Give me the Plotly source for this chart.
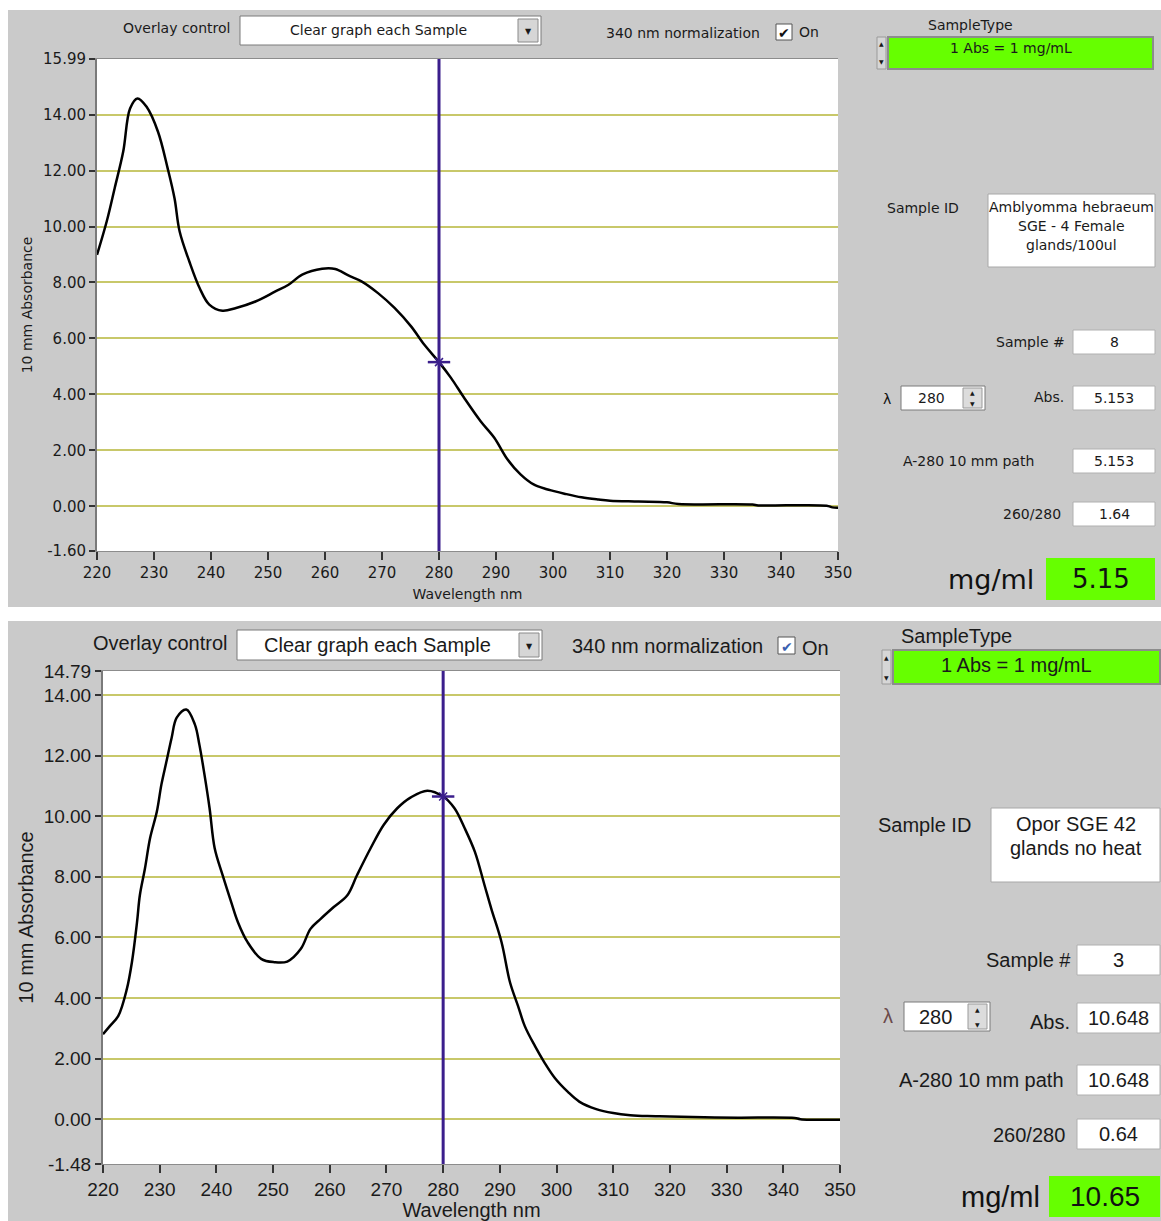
import plotly.graph_objects as go

W, H = 1161, 1221

# ---------------- data ----------------
wl_top = [220, 221.7, 223.1, 224.6, 225.8, 227.1, 228.7, 230.7, 232.4, 233.6, 234.5, 236.2,
          238.0, 239.7, 242.0, 244.4, 247.8, 251.3, 253.6, 256.0, 259.5, 261.8, 264.1, 266.4,
          269.3, 272.2, 275.1, 277.4, 280, 282.1, 284.4, 287.3, 289.7, 292.0, 294.3, 296.6,
          298.9, 300, 302, 305, 308, 310, 315, 320, 322, 335, 336, 348, 349, 350]
abs_top = [8.99, 10.18, 11.37, 12.68, 14.22, 14.58, 14.28, 13.39, 12.08, 11.01, 9.82, 8.75,
           7.80, 7.21, 6.99, 7.09, 7.32, 7.68, 7.92, 8.28, 8.49, 8.48, 8.25, 8.04,
           7.62, 7.09, 6.43, 5.78, 5.153, 4.59, 3.88, 3.04, 2.45, 1.68, 1.14, 0.78,
           0.61, 0.55, 0.45, 0.32, 0.24, 0.20, 0.17, 0.14, 0.08, 0.06, 0.03, 0.02, -0.04, -0.05]

wl_bot = [220, 221.2, 222.7, 224.2, 225.1, 226.0, 226.5, 227.4, 228.3, 229.5, 230.3, 231.2,
          232.1, 233.0, 234.7, 236.2, 237.0, 237.9, 238.8, 239.7, 241.1, 242.6, 243.8, 245.5,
          247.9, 250.2, 252.5, 254.9, 256.6, 258.4, 260.7, 263.1, 264.8, 267.2, 269.5, 271.9,
          274.3, 277.2, 280, 282.0, 283.8, 285.6, 287.3, 288.5, 290.3, 291.8, 293.2, 294.4,
          296.2, 297.9, 299.7, 302, 304, 307, 310, 313, 316, 320, 326, 332, 342, 343, 350]
abs_bot = [2.80, 3.07, 3.41, 4.29, 5.18, 6.50, 7.39, 8.27, 9.27, 10.15, 11.04, 11.81,
           12.58, 13.25, 13.52, 13.03, 12.36, 11.37, 10.26, 8.94, 8.05, 7.17, 6.50, 5.84,
           5.29, 5.18, 5.20, 5.62, 6.28, 6.61, 7.00, 7.39, 8.05, 8.94, 9.71, 10.26,
           10.62, 10.84, 10.648, 10.26, 9.60, 8.82, 7.72, 6.94, 5.84, 4.51, 3.74, 3.07,
           2.41, 1.86, 1.36, 0.90, 0.58, 0.33, 0.20, 0.13, 0.10, 0.09, 0.06, 0.05, 0.04, 0.0, -0.02]

cursor_nm = 280
cursor_abs_top = 5.153
cursor_abs_bot = 10.648

x_range = [220, 350]
x_ticks = [220, 230, 240, 250, 260, 270, 280, 290, 300, 310, 320, 330, 340, 350]
y_range_top = [-1.60, 15.99]
y_ticks_top = [-1.60, 0, 2, 4, 6, 8, 10, 12, 14, 15.99]
y_range_bot = [-1.48, 14.79]
y_ticks_bot = [-1.48, 0, 2, 4, 6, 8, 10, 12, 14, 14.79]

panel_top = dict(sample_id=["Amblyomma hebraeum", "SGE - 4 Female", "glands/100ul"],
                 sample_no="8", lam="280", absv="5.153", a280="5.153", ratio="1.64", mgml="5.15")
panel_bot = dict(sample_id=["Opor SGE 42", "glands no heat"],
                 sample_no="3", lam="280", absv="10.648", a280="10.648", ratio="0.64", mgml="10.65")

# ---------------- styling ----------------
GRAY = "#cacaca"
GREEN = "#66ff00"
CURSOR = "#3b1e8c"
GRID = "#c8c86a"
FT = "DejaVu Sans"
FB = "Liberation Sans"

dom_top = dict(x=[97, 838], y=[59, 551])
dom_bot = dict(x=[103, 840], y=[671, 1164])


def px(x):
    return x / W


def py(y):
    return 1 - y / H


shapes = []
annots = []


def rect(x0, y0, x1, y1, fill, line=None, lw=1, layer="below"):
    shapes.append(dict(type="rect", xref="paper", yref="paper",
                       x0=px(x0), x1=px(x1), y0=py(y1), y1=py(y0),
                       fillcolor=fill,
                       line=dict(color=line or fill, width=lw if line else 0),
                       layer=layer))


def text(x, y, s, size, font, xanchor="center", color="#1a1a1a"):
    annots.append(dict(xref="paper", yref="paper", x=px(x), y=py(y), text=s,
                       showarrow=False, xanchor=xanchor, yanchor="middle",
                       font=dict(family=font, size=size, color=color)))


# panels
rect(8, 10, 1161, 607, GRAY)
rect(8, 621, 1161, 1221, GRAY)
# plot areas (white)
for d in (dom_top, dom_bot):
    rect(d["x"][0], d["y"][0], d["x"][1], d["y"][1], "white")


def draw_panel(p, f, fs, o):
    text(o["ov_lbl"][0], o["ov_lbl"][1], "Overlay control", fs, f, xanchor="right")
    x0, y0, x1, y1 = o["dd"]
    rect(x0, y0, x1, y1, "white", "#7a7a7a", 1)
    text((x0 + x1 - 24) / 2, (y0 + y1) / 2, "Clear graph each Sample", fs, f)
    rect(x1 - 23, y0 + 3, x1 - 3, y1 - 3, "#d6d6d6", "#8a8a8a", 1)
    text(x1 - 13, (y0 + y1) / 2 + 1, "▼", 8, FT)
    text(o["norm"][0], o["norm"][1], "340 nm normalization", fs, f, xanchor="right")
    cx0, cy0, cx1, cy1 = o["chk"]
    rect(cx0, cy0, cx1, cy1, "white", "#555555", 1)
    text((cx0 + cx1) / 2, (cy0 + cy1) / 2 + 1, "✔", 14, FT, color=o["chk_col"])
    text(cx1 + 5, o["norm"][1] + o["on_dy"], "On", fs, f, xanchor="left")
    text(o["st_lbl"][0], o["st_lbl"][1], "SampleType", fs, f)
    gx0, gy0, gx1, gy1 = o["green"]
    rect(gx0, gy0, gx1, gy1, GREEN, "#8c8c8c", 2)
    text((gx0 + gx1) / 2 - 10, gy0 + o["gtxt_dy"], "1 Abs = 1 mg/mL", fs, f)
    rect(gx0 - 11, gy0, gx0 - 2, gy1, "#d6d6d6", "#9a9a9a", 1)
    text(gx0 - 6.5, gy0 + 7, "▲", 6, FT)
    text(gx0 - 6.5, gy1 - 7, "▼", 6, FT)
    text(o["sid_lbl"][0], o["sid_lbl"][1], "Sample ID", fs, f, xanchor="left")
    bx0, by0, bx1, by1 = o["sid_box"]
    rect(bx0, by0, bx1, by1, "white", "#a8a8a8", 1)
    for i, line in enumerate(p["sample_id"]):
        text((bx0 + bx1) / 2, by0 + o["sid_y0"] + i * o["sid_dy"], line, fs, f)
    vx0, vx1 = o["vbox_x"]
    rows = [("Sample #", p["sample_no"]), ("Abs.", p["absv"]),
            ("A-280 10 mm path", p["a280"]), ("260/280", p["ratio"])]
    for (lbl, val), (ly, lx, yy0, yy1) in zip(rows, o["rows"]):
        text(lx, ly, lbl, fs, f, xanchor="right")
        rect(vx0, yy0, vx1, yy1, "white", "#b0b0b0", 1)
        text((vx0 + vx1) / 2, (yy0 + yy1) / 2, val, fs, f)
    lx, ly = o["lam_lbl"]
    text(lx, ly, "λ", fs, f, color=o["lam_col"])
    sx0, sy0, sx1, sy1 = o["lam_box"]
    rect(sx0, sy0, sx1, sy1, "white", "#7a7a7a", 1)
    text(sx0 + o["lam_tx"], (sy0 + sy1) / 2, p["lam"], fs, f)
    rect(sx1 - 22, sy0 + 2, sx1 - 3, sy1 - 2, "#dcdcdc", "#9a9a9a", 1)
    text(sx1 - 12.5, sy0 + 7, "▲", 6, FT)
    text(sx1 - 12.5, sy1 - 7, "▼", 6, FT)
    mx, my = o["mg_lbl"]
    text(mx, my, "mg/ml", o["big"], f, xanchor="right", color="#111111")
    gx0, gy0, gx1, gy1 = o["mg_box"]
    rect(gx0, gy0, gx1, gy1, GREEN)
    text((gx0 + gx1) / 2, (gy0 + gy1) / 2, p["mgml"], o["big"] - 1, f, color="#111111")


draw_panel(panel_top, FT, 14, dict(
    ov_lbl=(232, 28), dd=(240, 16, 541, 45), norm=(762, 33), chk=(776, 24, 792, 40),
    chk_col="#111111", on_dy=-1,
    st_lbl=(970, 25), green=(888, 37, 1153, 69), gtxt_dy=11,
    sid_lbl=(885, 208), sid_box=(988, 194, 1155, 267), sid_y0=13, sid_dy=19,
    vbox_x=(1073, 1155),
    rows=[(342, 1067, 330, 354), (397, 1066, 386, 410), (461, 1036, 449, 473), (514, 1063, 502, 526)],
    lam_lbl=(887, 399), lam_col="#111111", lam_box=(901, 386, 985, 410), lam_tx=30,
    mg_lbl=(1036, 579), mg_box=(1046, 558, 1155, 600), big=27))

draw_panel(panel_bot, FB, 20, dict(
    ov_lbl=(230, 643), dd=(237, 630, 542, 660), norm=(765, 646), chk=(778, 637, 795, 654),
    chk_col="#3a5fb0", on_dy=2,
    st_lbl=(956, 636), green=(893, 650, 1160, 684), gtxt_dy=15,
    sid_lbl=(876, 825), sid_box=(991, 808, 1160, 882), sid_y0=16, sid_dy=24,
    vbox_x=(1077, 1160),
    rows=[(960, 1073, 945, 975), (1022, 1072, 1003, 1033), (1080, 1066, 1065, 1095), (1135, 1067, 1119, 1149)],
    lam_lbl=(888, 1016), lam_col="#6b4a4a", lam_box=(904, 1002, 990, 1031), lam_tx=31,
    mg_lbl=(1042, 1197), mg_box=(1049, 1176, 1160, 1217), big=29))

# cursor lines (through the axes' own scales)
for xa, ya in (("x", "y"), ("x2", "y2")):
    shapes.append(dict(type="line", xref=xa, x0=cursor_nm, x1=cursor_nm,
                       yref=ya + " domain", y0=0, y1=1,
                       line=dict(color=CURSOR, width=3), layer="above"))

fig = go.Figure()
fig.add_trace(go.Scatter(x=wl_top, y=abs_top, mode="lines", line=dict(color="black", width=2.5),
                         xaxis="x", yaxis="y", showlegend=False, line_shape="spline"))
fig.add_trace(go.Scatter(x=wl_bot, y=abs_bot, mode="lines", line=dict(color="black", width=2.5),
                         xaxis="x2", yaxis="y2", showlegend=False, line_shape="spline"))
for xa, ya, v in (("x", "y", cursor_abs_top), ("x2", "y2", cursor_abs_bot)):
    fig.add_trace(go.Scatter(x=[cursor_nm], y=[v], mode="markers", xaxis=xa, yaxis=ya,
                             marker=dict(symbol="line-ew", size=16, line=dict(color=CURSOR, width=2.5)),
                             showlegend=False))
    fig.add_trace(go.Scatter(x=[cursor_nm], y=[v], mode="markers", xaxis=xa, yaxis=ya,
                             marker=dict(symbol="x-thin", size=8, line=dict(color=CURSOR, width=1.5)),
                             showlegend=False))


def xaxis(dom, anchor, f, fs, tfs, standoff):
    return dict(domain=[px(dom["x"][0]), px(dom["x"][1])], anchor=anchor, range=x_range,
                automargin=False,
                tickmode="array", tickvals=x_ticks, ticktext=[str(t) for t in x_ticks],
                ticks="outside", ticklen=8, tickwidth=1.5, tickcolor="#333333",
                showgrid=False, zeroline=False, showline=True, mirror=True,
                linecolor="#8c8c8c", linewidth=1,
                tickfont=dict(family=f, size=fs, color="#1a1a1a"),
                title=dict(text="Wavelength nm", font=dict(family=f, size=tfs, color="#1a1a1a"),
                           standoff=standoff))


def yaxis(dom, anchor, rng, ticks, f, fs, tfs, standoff):
    return dict(domain=[py(dom["y"][1]), py(dom["y"][0])], anchor=anchor, range=rng,
                automargin=False,
                tickmode="array", tickvals=ticks, ticktext=["%.2f" % t for t in ticks],
                ticks="outside", ticklen=6, tickwidth=1.5, tickcolor="#333333",
                showgrid=True, gridcolor=GRID, gridwidth=1.5, zeroline=False,
                showline=True, linecolor="#7a7a7a", linewidth=2,
                tickfont=dict(family=f, size=fs, color="#1a1a1a"),
                title=dict(text="10 mm Absorbance", font=dict(family=f, size=tfs, color="#1a1a1a"),
                           standoff=standoff))


fig.update_layout(
    width=W, height=H, margin=dict(l=0, r=0, t=0, b=0, pad=0, autoexpand=False),
    paper_bgcolor="white", plot_bgcolor="rgba(0,0,0,0)",
    xaxis=xaxis(dom_top, "y", FT, 15, 14, 8),
    yaxis=yaxis(dom_top, "x", y_range_top, y_ticks_top, FT, 15, 14, 7),
    xaxis2=xaxis(dom_bot, "y2", FB, 19, 20, 5),
    yaxis2=yaxis(dom_bot, "x2", y_range_bot, y_ticks_bot, FB, 19, 20, 5),
    shapes=shapes, annotations=annots, showlegend=False,
)

fig.write_html("out.html")
